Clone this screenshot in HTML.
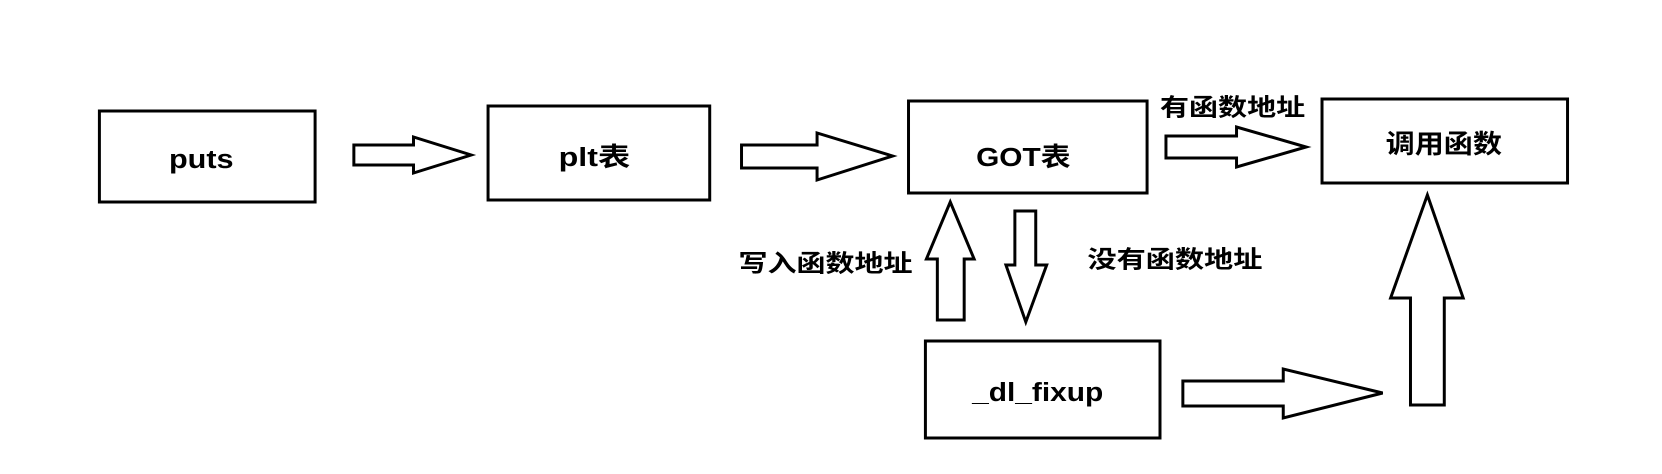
<!DOCTYPE html>
<html><head><meta charset="utf-8"><style>html,body{margin:0;padding:0;background:#fff}svg{display:block}</style></head>
<body>
<svg width="1662" height="474" viewBox="0 0 1662 474" xmlns="http://www.w3.org/2000/svg" font-family="'Liberation Sans','Noto Sans CJK SC',sans-serif" font-weight="bold" font-size="26">
<g transform="scale(0.994,1)">
<g fill="#fff" stroke="#000" stroke-width="3">
<rect x="100" y="111" width="217" height="91"/>
<rect x="491" y="106" width="223" height="94"/>
<rect x="914" y="101" width="240" height="92"/>
<rect x="1330" y="99" width="247" height="84"/>
<rect x="931" y="341" width="236" height="97"/>
<polygon points="356,145 416,145 416,137 474,155 416,173 416,165 356,165"/>
<polygon points="746,145 822,145 822,133 898,156 822,180 822,168 746,168"/>
<polygon points="1173,136 1244,136 1244,127 1314,147 1244,167 1244,158 1173,158"/>
<polygon points="956,202 980,259 970,259 970,320 943,320 943,259 932,259"/>
<polygon points="1021,211 1042,211 1042,265 1053,265 1032,322 1012,265 1021,265"/>
<polygon points="1190,381 1291,381 1291,369 1391,393 1291,418 1291,406 1190,406"/>
<polygon points="1436,195 1472,298 1453,298 1453,405 1419,405 1419,298 1399,298"/>
</g>
<g fill="#000" dominant-baseline="central">
<text x="170" y="160" textLength="65" lengthAdjust="spacingAndGlyphs">puts</text>
<text x="562" y="158" textLength="72" lengthAdjust="spacingAndGlyphs">plt表</text>
<text x="982" y="158" textLength="95" lengthAdjust="spacingAndGlyphs">GOT表</text>
<text x="1394" y="145" textLength="117" lengthAdjust="spacingAndGlyphs">调用函数</text>
<text x="978" y="393" textLength="132" lengthAdjust="spacingAndGlyphs">_dl_fixup</text>
<text x="1167" y="108" font-size="24" textLength="146" lengthAdjust="spacingAndGlyphs">有函数地址</text>
<text x="743" y="264" font-size="24" textLength="175" lengthAdjust="spacingAndGlyphs">写入函数地址</text>
<text x="1094" y="260" font-size="24" textLength="176" lengthAdjust="spacingAndGlyphs">没有函数地址</text>
</g>
</g>
</svg>
</body></html>
